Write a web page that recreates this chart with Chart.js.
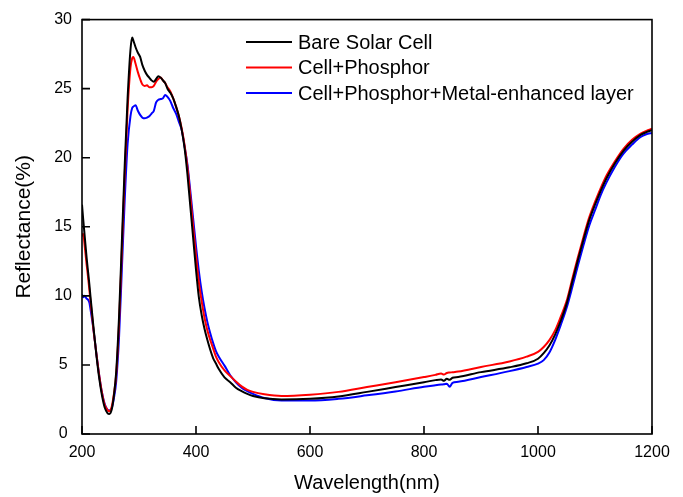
<!DOCTYPE html>
<html>
<head>
<meta charset="utf-8">
<script src="https://cdn.jsdelivr.net/npm/chart.js@4.4.1/dist/chart.umd.min.js"></script>
<style>
  body { margin: 0; background: #fff; }
  #wrap { width: 683px; height: 497px; }
</style>
</head>
<body>
<div id="wrap"><canvas id="reflect" width="683" height="497"></canvas></div>
<script>
const wavelength = [
  200, 202, 205, 208, 210, 213, 215, 220, 225, 230, 235, 240, 245, 248, 252, 256, 260, 265, 270, 275,
  280, 285, 288, 290, 294, 298, 302, 306, 310, 314, 318, 322, 326, 330, 334, 338, 342, 346, 350, 355,
  360, 365, 370, 375, 380, 385, 390, 395, 400, 405, 410, 415, 420, 425, 430, 435, 440, 450, 460, 470,
  480, 490, 500, 520, 550, 600, 650, 700, 750, 800, 820, 830, 835, 840, 845, 850, 860, 900, 950, 980,
  1000, 1010, 1020, 1030, 1040, 1050, 1060, 1070, 1080, 1090, 1100, 1110, 1120, 1135, 1150, 1165, 1180, 1190, 1200
];

const bareCell = [
  16.6, 15.6, 14.2, 12.8, 12.0, 10.8, 9.9, 7.8, 5.8, 4.1, 2.8, 1.9, 1.5, 1.45, 1.75, 2.8, 4.5, 8.5, 14.0, 19.5,
  24.3, 27.8, 28.7, 28.5, 28.0, 27.6, 27.3, 26.7, 26.3, 26.0, 25.8, 25.6, 25.5, 25.7, 25.9, 25.8, 25.6, 25.4, 25.0, 24.7,
  24.3, 23.7, 23.0, 22.0, 20.7, 18.8, 16.5, 14.2, 11.9, 9.9, 8.6, 7.6, 6.8, 6.1, 5.5, 5.1, 4.7, 4.1, 3.75, 3.35,
  3.1, 2.9, 2.75, 2.58, 2.5, 2.55, 2.72, 3.05, 3.4, 3.75, 3.9, 3.95, 3.85, 4.0, 3.92, 4.07, 4.13, 4.48, 4.83, 5.12,
  5.45, 5.85, 6.4, 7.2, 8.2, 9.4, 11.0, 12.6, 14.1, 15.5, 16.6, 17.6, 18.5, 19.6, 20.5, 21.15, 21.65, 21.85, 22.0
];

const cellPhosphor = [
  14.3, 14.5, 13.5, 12.3, 11.6, 10.4, 9.6, 7.6, 5.9, 4.3, 3.0, 2.1, 1.72, 1.65, 1.95, 2.9, 4.3, 8.0, 13.3, 18.8,
  23.5, 26.5, 27.2, 27.3, 26.8, 26.2, 25.7, 25.3, 25.2, 25.25, 25.1, 25.1, 25.2, 25.5, 25.7, 25.8, 25.6, 25.4, 25.1, 24.8,
  24.3, 23.7, 23.0, 22.1, 20.9, 19.3, 17.2, 15.0, 12.9, 11.0, 9.6, 8.4, 7.5, 6.8, 6.2, 5.6, 5.2, 4.6, 4.2, 3.8,
  3.45, 3.2, 3.05, 2.88, 2.76, 2.85, 3.05, 3.4, 3.75, 4.12, 4.28, 4.38, 4.3, 4.42, 4.45, 4.47, 4.52, 4.85, 5.25, 5.6,
  5.95, 6.3, 6.8, 7.5, 8.5, 9.6, 11.2, 12.8, 14.3, 15.7, 16.8, 17.8, 18.7, 19.75, 20.65, 21.3, 21.75, 21.95, 22.1
];

const cellPhosphorMetal = [
  10.1, 9.9, 10.0, 9.8, 9.75, 9.5, 9.0, 7.6, 5.9, 4.3, 3.0, 2.15, 1.75, 1.7, 1.85, 2.6, 3.8, 7.0, 12.0, 17.0,
  21.0, 23.0, 23.6, 23.7, 23.8, 23.4, 23.1, 22.9, 22.85, 22.9, 23.0, 23.2, 23.4, 24.0, 24.2, 24.25, 24.3, 24.55, 24.4, 24.1,
  23.6, 23.2, 22.6, 22.0, 20.8, 19.5, 17.6, 15.6, 13.6, 11.8, 10.3, 9.1, 8.1, 7.3, 6.6, 6.0, 5.6, 4.95, 4.25, 3.75,
  3.35, 3.1, 2.9, 2.6, 2.42, 2.42, 2.55, 2.8, 3.08, 3.42, 3.53, 3.58, 3.6, 3.64, 3.42, 3.7, 3.78, 4.12, 4.55, 4.85,
  5.1, 5.35, 5.9, 6.8, 7.9, 9.1, 10.6, 12.2, 13.7, 15.1, 16.2, 17.3, 18.2, 19.35, 20.3, 20.95, 21.5, 21.7, 21.8
];

const seriesLabels = ["Bare Solar Cell", "Cell+Phosphor", "Cell+Phosphor+Metal-enhanced layer"];
const seriesColors = ["#000000", "#ff0000", "#0000ff"];
const xTicks = [200, 400, 600, 800, 1000, 1200];
const yTicks = [0, 5, 10, 15, 20, 25, 30];

const fontFamily = "'Liberation Sans', Arial, sans-serif";

function toPoints(values) {
  return values.map((v, i) => ({ x: wavelength[i], y: v }));
}

// frame box and inward tick marks
const frameTicks = {
  id: "frameTicks",
  afterDraw(chart) {
    const ctx = chart.ctx;
    const a = chart.chartArea;
    const xs = chart.scales.x;
    const ys = chart.scales.y;
    ctx.save();
    ctx.strokeStyle = "#000";
    ctx.lineWidth = 1.6;
    ctx.strokeRect(a.left, a.top, a.right - a.left, a.bottom - a.top);
    ctx.beginPath();
    xTicks.forEach(t => {
      const px = xs.getPixelForValue(t);
      ctx.moveTo(px, a.bottom);
      ctx.lineTo(px, a.bottom - 8);
    });
    yTicks.forEach(t => {
      const py = ys.getPixelForValue(t);
      ctx.moveTo(a.left, py);
      ctx.lineTo(a.left + 8, py);
    });
    ctx.stroke();
    ctx.restore();
  }
};

// legend inside the plot
const innerLegend = {
  id: "innerLegend",
  afterDraw(chart) {
    const ctx = chart.ctx;
    ctx.save();
    ctx.font = "20px " + fontFamily;
    ctx.textBaseline = "middle";
    ctx.textAlign = "left";
    chart.data.datasets.forEach((ds, i) => {
      const y = 42 + i * 25.5;
      ctx.strokeStyle = ds.borderColor;
      ctx.lineWidth = 2;
      ctx.beginPath();
      ctx.moveTo(246, y);
      ctx.lineTo(292, y);
      ctx.stroke();
      ctx.fillStyle = "#000";
      ctx.fillText(ds.label, 298, y + 1);
    });
    ctx.restore();
  }
};

new Chart("reflect", {
  type: "line",
  data: {
    datasets: [
      { label: seriesLabels[0], data: toPoints(bareCell), borderColor: seriesColors[0] },
      { label: seriesLabels[1], data: toPoints(cellPhosphor), borderColor: seriesColors[1] },
      { label: seriesLabels[2], data: toPoints(cellPhosphorMetal), borderColor: seriesColors[2] }
    ]
  },
  options: {
    responsive: false,
    animation: false,
    layout: { padding: { top: 16, right: 31, bottom: 0, left: 0 } },
    elements: {
      point: { radius: 0 },
      line: { borderWidth: 2, cubicInterpolationMode: "monotone" }
    },
    plugins: {
      legend: { display: false },
      tooltip: { enabled: false }
    },
    scales: {
      x: {
        type: "linear",
        min: 200,
        max: 1200,
        afterFit: s => { s.height = 63; },
        afterBuildTicks: s => { s.ticks = xTicks.map(v => ({ value: v })); },
        grid: { display: false, drawTicks: false },
        border: { display: false },
        ticks: {
          color: "#000",
          padding: 9,
          maxRotation: 0,
          font: { family: fontFamily, size: 16 },
          callback: v => String(v)
        },
        title: {
          display: true,
          text: "Wavelength(nm)",
          color: "#000",
          padding: { top: 0, bottom: 2 },
          font: { family: fontFamily, size: 20 }
        }
      },
      y: {
        min: 0,
        max: 30,
        afterFit: s => { s.width = 82; },
        afterBuildTicks: s => { s.ticks = yTicks.map(v => ({ value: v })); },
        grid: { display: false, drawTicks: false },
        border: { display: false },
        ticks: {
          color: "#000",
          padding: 10,
          crossAlign: "center",
          font: { family: fontFamily, size: 16 },
          callback: v => String(v)
        },
        title: {
          display: true,
          text: "Reflectance(%)",
          color: "#000",
          padding: { top: 12, bottom: 0 },
          font: { family: fontFamily, size: 21 }
        }
      }
    }
  },
  plugins: [frameTicks, innerLegend]
});
</script>
</body>
</html>
